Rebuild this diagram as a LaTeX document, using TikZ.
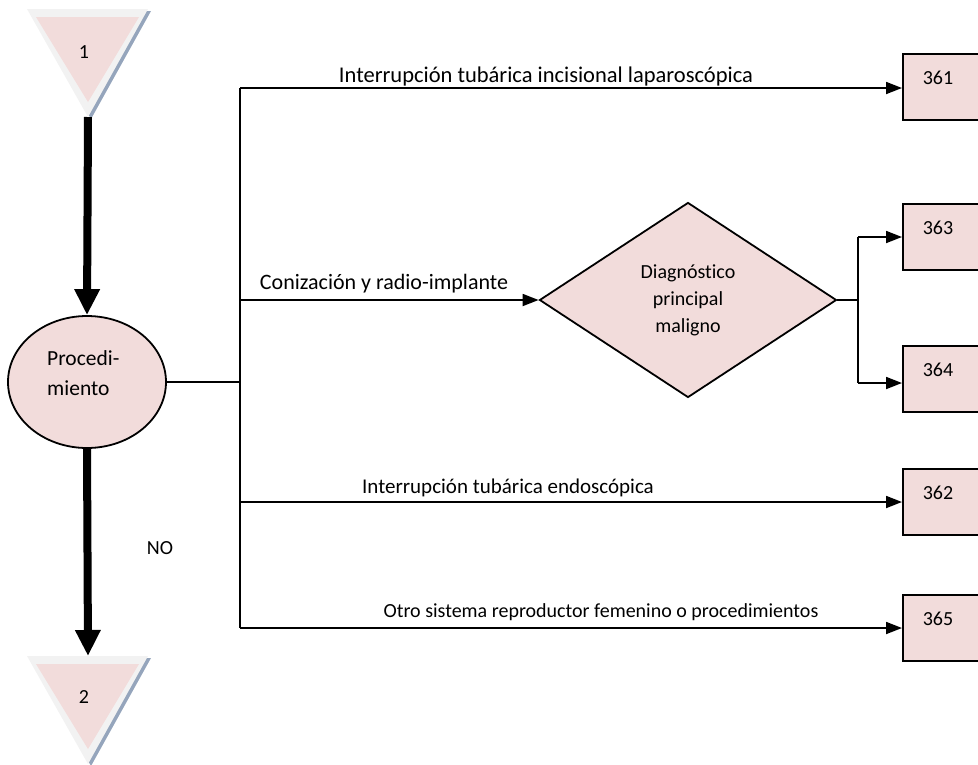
\documentclass[tikz,border=0pt]{standalone}
\usepackage{fontspec}
\setmainfont{Carlito}[Ligatures={NoCommon}]
\usetikzlibrary{arrows.meta,shapes.geometric}
\definecolor{rosa}{HTML}{F2DCDB}
\definecolor{marco}{HTML}{F2F2F2}
\definecolor{sombra}{HTML}{95A5BC}
\begin{document}
\begin{tikzpicture}[x=1pt,y=-1pt,
  every node/.style={font=\fontsize{20}{25}\selectfont},
  conn/.style={line width=1.8pt},
  flecha/.style={conn,-{Triangle[length=16pt,width=12pt]}},
  gruesa/.style={line width=8pt,-{Triangle[length=26pt,width=24pt]}},
  caja/.style={draw,line width=1.8pt,fill=rosa,minimum width=100pt,
    minimum height=66pt,anchor=north west,inner sep=0pt},
  num/.style={anchor=center},
  etiqueta/.style={anchor=center,inner sep=0pt,font=\fontsize{22}{27}\selectfont}
]
\useasboundingbox (0,0) rectangle (978,764);

% connector triangles (off-page markers)
\fill[sombra] (30,11) -- (151,11) -- (91,119) -- cycle;
\fill[marco] (27,9) -- (148,9) -- (88,117) -- cycle;
\fill[rosa] (36,17) -- (139,17) -- (88,102) -- cycle;
\coordinate (t1tip) at (88,117);
\node[num] (t1) at (84,52) {1};

\fill[sombra] (30,658) -- (151,658) -- (91,766) -- cycle;
\fill[marco] (27,656) -- (148,656) -- (88,764) -- cycle;
\fill[rosa] (36,664) -- (139,664) -- (88,749) -- cycle;
\coordinate (t2top) at (88,656);
\node[num] (t2) at (84,697) {2};

% decision nodes
\node[ellipse,draw,fill=rosa,line width=1.8pt,minimum width=158pt,
  minimum height=132pt,inner sep=0pt] (proc) at (87,382) {};
\node[align=left,anchor=west,font=\fontsize{21.5}{30}\selectfont,inner sep=0pt]
  (proctxt) at (47,373) {Procedi-\\miento};

\node[diamond,draw,fill=rosa,line width=1.8pt,minimum width=297pt,
  minimum height=195pt,inner sep=0pt] (diag) at (688,300) {};
\node[align=center,font=\fontsize{20}{27}\selectfont,inner sep=0pt]
  (diagtxt) at (688,300) {Diagnóstico\\principal\\maligno};

% result boxes
\node[caja] (b361) at (902,53) {};
\node[caja] (b363) at (902,203) {};
\node[caja] (b364) at (902,345) {};
\node[caja] (b362) at (902,468) {};
\node[caja] (b365) at (902,594) {};
\node[num] (n361) at (938,78) {361};
\node[num] (n363) at (938,228) {363};
\node[num] (n364) at (938,370) {364};
\node[num] (n362) at (938,493) {362};
\node[num] (n365) at (938,619) {365};

% bus coordinates
\coordinate (bj) at (240,382);
\coordinate (r1) at (240,88);
\coordinate (r2) at (240,300);
\coordinate (r3) at (240,502);
\coordinate (r5) at (240,628);
\coordinate (s) at (858,300);
\coordinate (s1) at (858,237);
\coordinate (s2) at (858,383);

% thick flow arrows
\draw[gruesa] (t1tip) -- (proc.north);
\draw[gruesa] (proc.south) -- (t2top);

% branches
\draw[conn] (proc.east) -- (bj);
\draw[conn] (r1) -- (r5);
\draw[flecha] (r1) -- (r1 -| b361.west);
\draw[flecha] (r2) -- (diag.west);
\draw[flecha] (r3) -- (r3 -| b362.west);
\draw[flecha] (r5) -- (r5 -| b365.west);
\draw[conn] (diag.east) -- (s);
\draw[conn] (s1) -- (s2);
\draw[flecha] (s1) -- (s1 -| b363.west);
\draw[flecha] (s2) -- (s2 -| b364.west);

% labels
\node[etiqueta,font=\fontsize{22.5}{27}\selectfont] (l1) at (546,76) {Interrupción tubárica incisional laparoscópica};
\node[etiqueta] (l2) at (384,284) {Conización y radio-implante};
\node[etiqueta,font=\fontsize{21}{27}\selectfont] (l3) at (508,488) {Interrupción tubárica endoscópica};
\node[etiqueta,font=\fontsize{20}{27}\selectfont] (l5) at (601,612) {Otro sistema reproductor femenino o procedimientos};
\node[etiqueta,font=\fontsize{20}{25}\selectfont] (no) at (160,548) {NO};
\end{tikzpicture}
\end{document}
